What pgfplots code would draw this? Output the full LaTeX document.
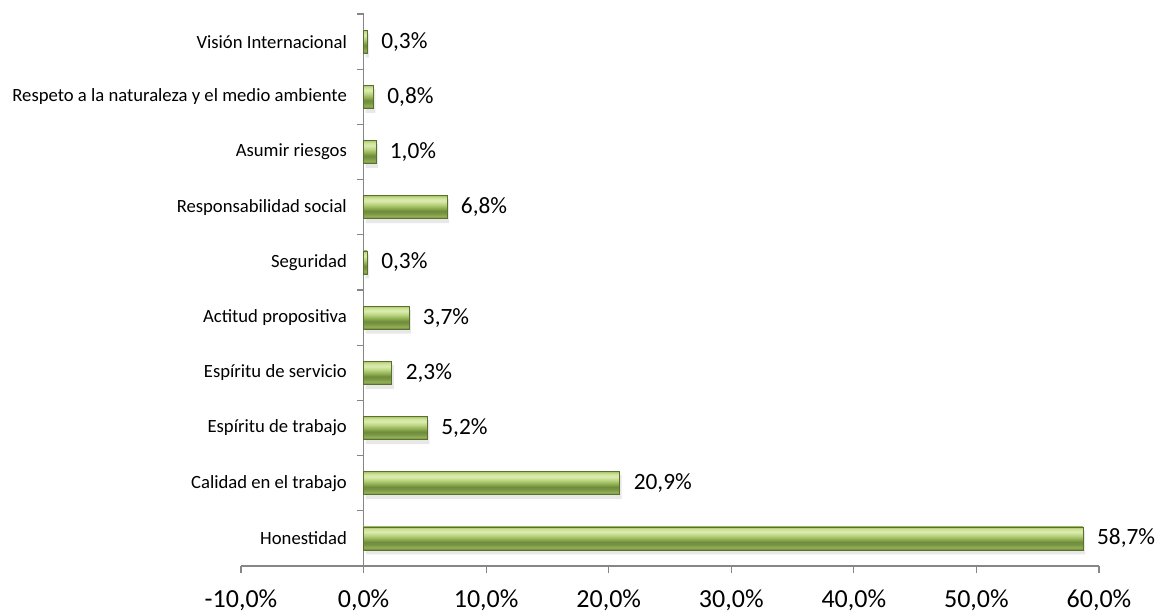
\documentclass[border=0pt]{standalone}
\usepackage{fontspec}
\setmainfont{Carlito}
\usepackage{pgfplots}
\pgfplotsset{compat=1.18}
\definecolor{axgray}{HTML}{868686}
\definecolor{gEdge}{HTML}{5A7030}
\definecolor{s1}{HTML}{6A8436}
\definecolor{s2}{HTML}{94B058}
\definecolor{s3}{HTML}{7A9744}
\definecolor{s4}{HTML}{6F8B3D}
\definecolor{s5}{HTML}{8FAE50}
\definecolor{s6}{HTML}{B9D37E}
\definecolor{s7}{HTML}{DCEBB0}
\definecolor{s8}{HTML}{CFE39A}
\definecolor{s9}{HTML}{A9C568}
\pgfdeclareverticalshading{barshade}{100bp}{color(0bp)=(s1); color(25bp)=(s1); color(30bp)=(s2); color(36bp)=(s3); color(42bp)=(s4); color(48bp)=(s5); color(56bp)=(s6); color(64bp)=(s7); color(70bp)=(s8); color(75bp)=(s9); color(100bp)=(s9)}
\pgfplotsset{
  mybar/.style={shading=barshade, draw=gEdge, line width=0.4pt, bar shift=0pt},
  myshadow/.style={fill=black!9, draw=none, bar shift=-3pt, bar width=18pt, xshift=1.5pt, forget plot, nodes near coords={}},
}
\begin{document}
\begin{tikzpicture}
\begin{axis}[
  at={(180.75pt,34.5pt)}, anchor=south west,
  scale only axis, width=643.5pt, height=414pt,
  xmin=-10, xmax=60, ymin=-0.5, ymax=9.5,
  xbar, bar width=17.25pt,
  axis x line=bottom, axis y line=middle,
  axis line style={axgray, line width=0.9pt, -},
  xtick={-10,0,10,20,30,40,50,60},
  xticklabels={{-10,0\%},{0,0\%},{10,0\%},{20,0\%},{30,0\%},{40,0\%},{50,0\%},{60,0\%}},
  x tick label style={font=\fontsize{19.5}{20}\selectfont, yshift=-9pt},
  ytick={-0.5,0.5,...,9.5}, yticklabels={},
  extra y ticks={0,1,2,3,4,5,6,7,8,9},
  extra y tick labels={Honestidad,Calidad en el trabajo,Espíritu de trabajo,Espíritu de servicio,Actitud propositiva,Seguridad,Responsabilidad social,Asumir riesgos,Respeto a la naturaleza y el medio ambiente,Visión Internacional},
  extra y tick style={major tick length=0pt},
  y tick label style={font=\fontsize{14}{15}\selectfont, anchor=east, xshift=-9pt},
  major tick length=5.25pt,
  tick style={axgray, line width=0.9pt},
  tick align=outside,
  point meta=explicit symbolic,
  nodes near coords,
  nodes near coords style={font=\fontsize{17.5}{18}\selectfont, anchor=west, xshift=7pt, text=black},
  clip=false,
]
\addplot[myshadow] coordinates {(58.7,0) [] (20.9,1) [] (5.2,2) [] (2.3,3) [] (3.7,4) [] (0.3,5) [] (6.8,6) [] (1.0,7) [] (0.8,8) [] (0.3,9) []};
\addplot[mybar] coordinates {(58.7,0) [58,7\%]};
\addplot[mybar] coordinates {(20.9,1) [20,9\%]};
\addplot[mybar] coordinates {(5.2,2) [5,2\%]};
\addplot[mybar] coordinates {(2.3,3) [2,3\%]};
\addplot[mybar] coordinates {(3.7,4) [3,7\%]};
\addplot[mybar] coordinates {(0.3,5) [0,3\%]};
\addplot[mybar] coordinates {(6.8,6) [6,8\%]};
\addplot[mybar] coordinates {(1.0,7) [1,0\%]};
\addplot[mybar] coordinates {(0.8,8) [0,8\%]};
\addplot[mybar] coordinates {(0.3,9) [0,3\%]};
\end{axis}
\pgfresetboundingbox
\path[use as bounding box] (0,0) rectangle (867.75pt,459pt);
\end{tikzpicture}
\end{document}
